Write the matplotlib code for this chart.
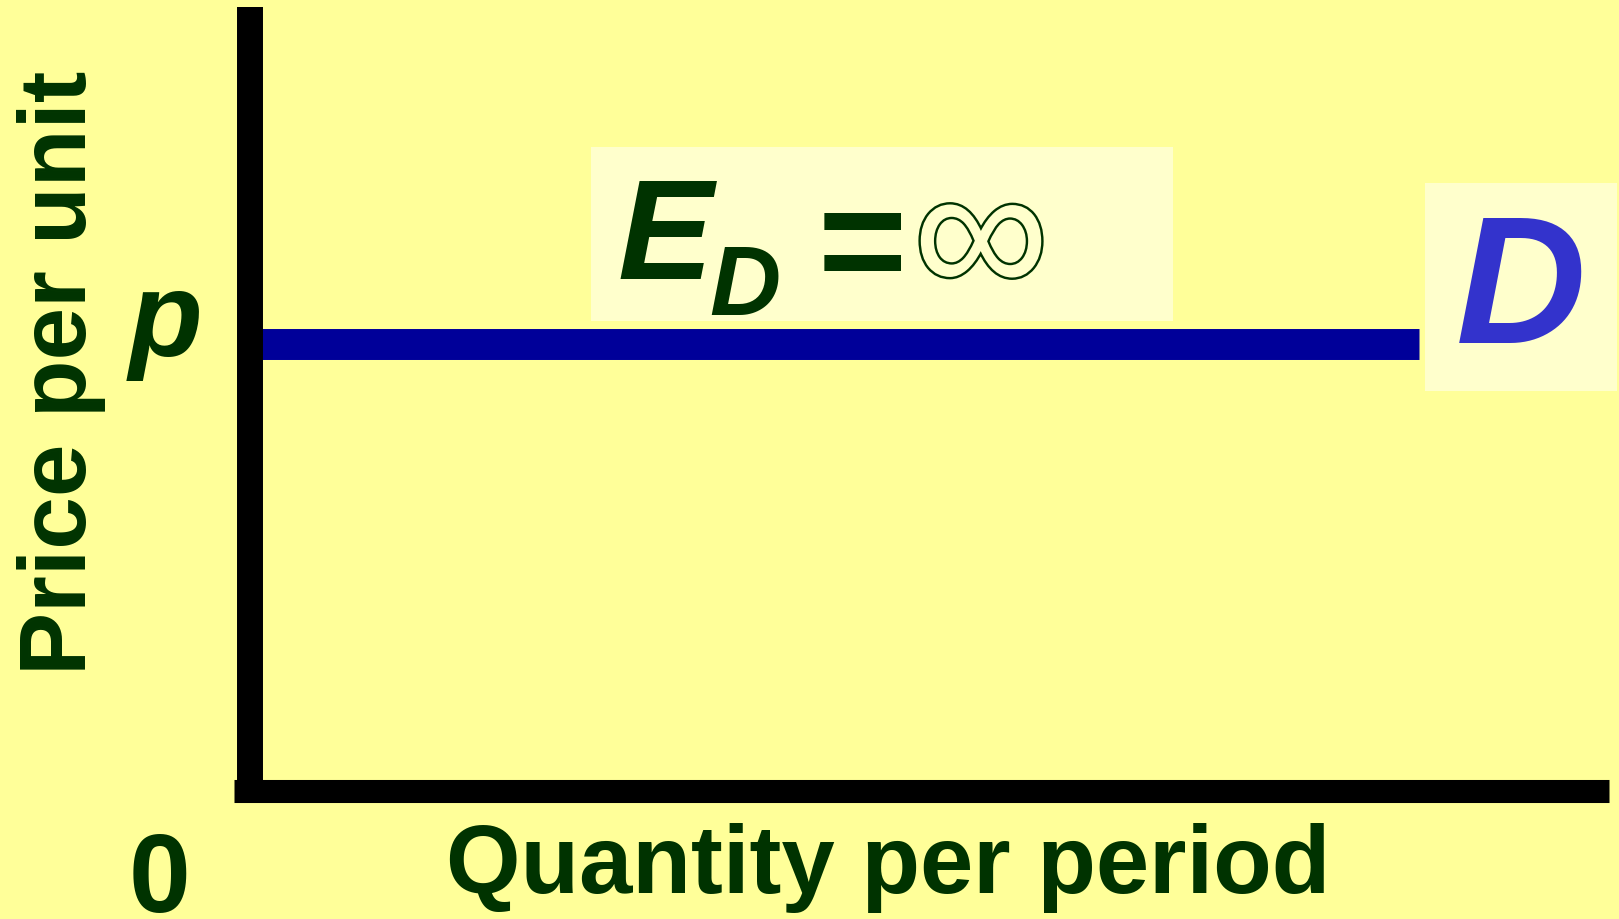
import matplotlib
matplotlib.use("Agg")
import matplotlib.pyplot as plt
from matplotlib.patches import Rectangle
import matplotlib.patheffects as pe

# demand curve: perfectly elastic, constant price
demand_q = [0.0, 8.6]
demand_p = [5.7, 5.7]
x_max = 10.0
y_max = 10.0

W, H = 1619, 920
BG = "#FFFF99"
BOX = "#FFFFCC"
TXT = "#003300"
LINE = "#000099"
DCOL = "#3333CC"


def px(x, y):
    # pixel position (from top-left) -> figure fraction
    return x / W, 1 - y / H


fig = plt.figure(figsize=(W / 100, H / 100), dpi=100, facecolor=BG)

# axes: origin at the centre of the thick axis lines
x0, y0, x1, y1 = 250, 791.5, 1609, 8
ax = fig.add_axes([x0 / W, 1 - y0 / H, (x1 - x0) / W, (y0 - y1) / H])
ax.set_xlim(0, x_max)
ax.set_ylim(0, y_max)
ax.set_facecolor("none")
ax.axis("off")

# label boxes (drawn behind everything)
fig.patches.append(Rectangle(px(591, 322), 582 / W, 174 / H, transform=fig.transFigure,
                             facecolor=BOX, edgecolor="none", zorder=0))
fig.patches.append(Rectangle(px(1425, 392), 192 / W, 208 / H, transform=fig.transFigure,
                             facecolor=BOX, edgecolor="none", zorder=0))

# demand line
ax.plot(demand_q, demand_p, color=LINE, lw=22.3, solid_capstyle="butt", zorder=2)

# thick axes
ax.plot([0, 0], [0, y_max], color="black", lw=18.7, solid_capstyle="butt",
        clip_on=False, zorder=3)
ax.plot([-0.12, x_max], [0, 0], color="black", lw=16.6, solid_capstyle="butt",
        clip_on=False, zorder=3)

font = "Liberation Sans"

fig.text(*px(61, 373), "Price per unit", rotation=90, ha="center", va="center",
         fontsize=68, fontweight="bold", color=TXT, family=font)
fig.text(*px(166, 356), "p", ha="center", va="baseline", fontsize=87,
         fontweight="bold", style="italic", color=TXT, family=font)
fig.text(*px(159, 912), "0", ha="center", va="baseline", fontsize=80,
         fontweight="bold", color=TXT, family=font)
fig.text(*px(888, 893), "Quantity per period", ha="center", va="baseline",
         fontsize=69, fontweight="bold", color=TXT, family=font)

# E_D = infinity
fig.text(*px(617, 279), "E", ha="left", va="baseline", fontsize=103,
         fontweight="bold", style="italic", color=TXT, family=font)
fig.text(*px(709, 315), "D", ha="left", va="baseline", fontsize=71,
         fontweight="bold", style="italic", color=TXT, family=font)
fig.text(*px(862, 254), "=", ha="center", va="center", fontsize=110,
         fontweight="bold", color=TXT, family=font)
fig.text(*px(981, 248), "\u221e", ha="center", va="center", fontsize=138,
         fontweight="normal", color=BOX, family=font,
         path_effects=[pe.withStroke(linewidth=3.5, foreground=TXT)])

# D label
fig.text(*px(1456, 343), "D", ha="left", va="baseline", fontsize=130,
         fontweight="bold", style="italic", color=DCOL, family=font)

fig.savefig("out.png", dpi=100, facecolor=BG)
